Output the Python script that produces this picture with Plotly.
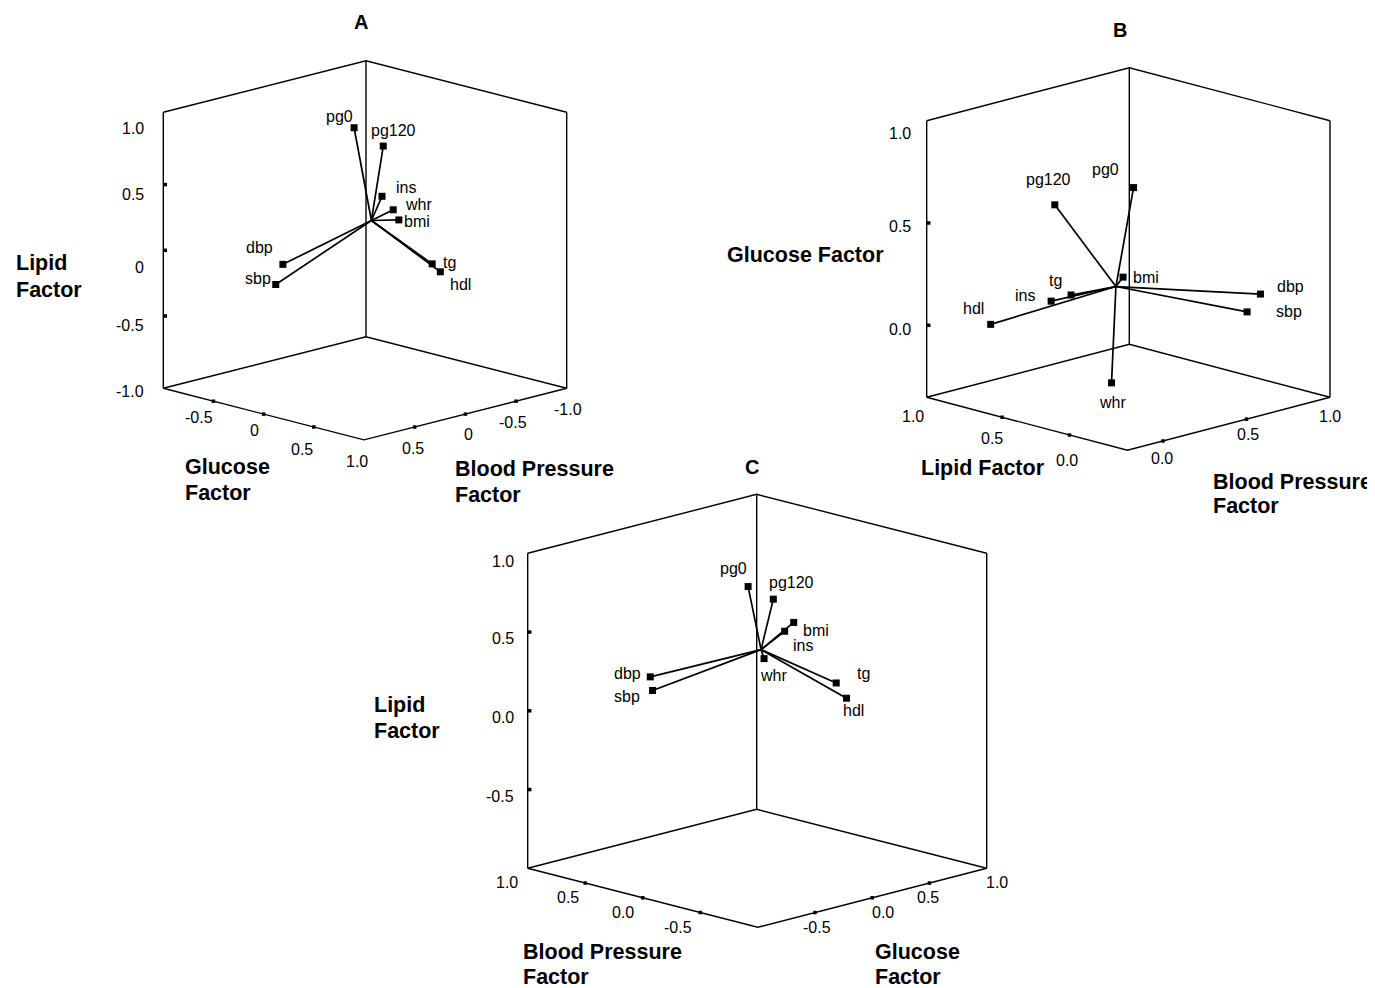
import plotly.graph_objects as go

# ---------------- data (factor loadings) ----------------
VARIABLES = ["pg0", "pg120", "ins", "whr", "bmi", "tg", "hdl", "dbp", "sbp"]

# Panel A – axes as labelled in panel A
A_GLUCOSE = [-0.24, -0.02, 0.21, 0.17, 0.60, 0.70, 0.69, 0.02, 0.07]
A_BP = [-0.13, -0.20, 0.04, -0.11, 0.26, 0.03, -0.06, 0.83, 0.95]
A_LIPID = [0.86, 0.75, 0.46, 0.32, 0.40, 0.04, -0.04, 0.06, -0.06]

# Panel B – axes as labelled in panel B
B_GLUCOSE = [0.81, 0.74, 0.17, -0.22, 0.23, 0.14, 0.03, 0.11, 0.04]
B_LIPID = [-0.10, 0.15, 0.45, 0.20, 0.35, 0.55, 0.75, -0.05, -0.05]
B_BP = [0.09, -0.18, 0.04, 0.20, 0.39, 0.24, -0.08, 0.89, 0.81]

# Panel C – axes as labelled in panel C
C_LIPID = [0.86, 0.75, 0.46, 0.32, 0.40, 0.04, -0.04, 0.06, -0.06]
C_BP = [-0.15, -0.18, 0.00, 0.00, 0.27, 0.02, -0.07, 0.88, 0.96]
C_GLUCOSE = [-0.23, -0.04, 0.24, 0.06, 0.59, 0.71, 0.71, -0.05, 0.05]

# tick labels
A_LIPID_TICKS = ["1.0", "0.5", "0", "-0.5", "-1.0"]
A_GLUCOSE_TICKS = ["-0.5", "0", "0.5", "1.0"]
A_BP_TICKS = ["0.5", "0", "-0.5", "-1.0"]
B_GLUCOSE_TICKS = ["1.0", "0.5", "0.0"]
B_LIPID_TICKS = ["1.0", "0.5", "0.0"]
B_BP_TICKS = ["0.0", "0.5", "1.0"]
C_LIPID_TICKS = ["1.0", "0.5", "0.0", "-0.5"]
C_BP_TICKS = ["1.0", "0.5", "0.0", "-0.5"]
C_GLUCOSE_TICKS = ["-0.5", "0.0", "0.5", "1.0"]

# ---------------- styling / panel geometry ----------------
FONT = "Arial, 'Liberation Sans', Helvetica, sans-serif"
BLACK = "#000000"
PAGE_W, PAGE_H, BODY_MARGIN = 1375, 988, 8

# u runs along back->left floor edge, v along back->right floor edge, w vertical
# *_shift: per-label pixel offsets (dx, dy) of the tick label from its tick
PANELS = [
    dict(letter="A", letter_pos=(361, 22),
         u=A_BP, v=A_GLUCOSE, w=A_LIPID,
         back=(366.0, 336.7), edge_u=(-202.7, 51.6), edge_v=(200.7, 51.6), height=276.0,
         u_range=(-1.0, 1.0), v_range=(-1.0, 1.0), w_range=(-1.05, 1.05),
         w_ticks=A_LIPID_TICKS, w_marks=[0.5, 0.0, -0.5],
         w_shift=[(-17, 9.4), (-17, 10.1), (-17, 17), (-17, 9.7), (-17, 10)],
         v_ticks=A_GLUCOSE_TICKS, v_marks=[-0.5, 0.0, 0.5],
         v_shift=[(-14.5, 16.5), (-8.7, 16.6), (-12.1, 22), (-6.7, 21.1)],
         u_ticks=A_BP_TICKS, u_marks=[0.5, 0.0, -0.5],
         u_shift=[(-1.7, 21.3), (3.6, 20.2), (-3, 21.5), (1.6, 21)],
         label_shift=[(-15, -11), (10, -16), (23.5, -8.4), (25, -5), (18, 2),
                      (17, -1.6), (20, 12.7), (-23, -16.7), (-17.5, -6)],
         titles=[("Lipid", 14, 263), ("Factor", 14, 290),
                 ("Glucose", 183, 466.7), ("Factor", 183, 493.3),
                 ("Blood Pressure", 453, 469), ("Factor", 453, 495)]),
    dict(letter="B", letter_pos=(1120, 30),
         u=B_BP, v=B_LIPID, w=B_GLUCOSE,
         back=(1129.3, 344.3), edge_u=(-202.6, 53.0), edge_v=(200.7, 53.0), height=276.6,
         u_range=(1.0, -0.213), v_range=(1.06, -0.43), w_range=(-0.352, 1.0),
         w_ticks=B_GLUCOSE_TICKS, w_marks=[0.5, 0.0],
         w_shift=[(-14, 12.6), (-14, 3.7), (-14, 4)],
         v_ticks=B_LIPID_TICKS, v_marks=[0.5, 0.0],
         v_shift=[(-21.5, 16.6), (-10.4, 21.1), (-2.8, 25.7)],
         u_ticks=B_BP_TICKS, u_marks=[0.0, 0.5],
         u_shift=[(-1.3, 17.3), (1.2, 15.2), (0, 19.4)],
         label_shift=[(-28, -18.4), (-6, -25), (-26, -6), (1, 20), (22.5, 0),
                      (-16, -14.3), (-17.5, -16), (30, -7.3), (42, 0)],
         titles=[("Glucose Factor", 725, 255), ("Lipid Factor", 919, 467.7),
                 ("Blood Pressure", 1211, 481.7), ("Factor", 1211, 506)]),
    dict(letter="C", letter_pos=(752, 467),
         u=C_GLUCOSE, v=C_BP, w=C_LIPID,
         back=(756.7, 809.3), edge_u=(-229.0, 59.0), edge_v=(230.0, 59.0), height=315.0,
         u_range=(1.0, -1.0), v_range=(1.0, -1.0), w_range=(-1.0, 1.0),
         w_ticks=C_LIPID_TICKS, w_marks=[0.5, 0.0, -0.5],
         w_shift=[(-12, 8.4), (-12, 6.3), (-12, 6.9), (-12, 7.2)],
         v_ticks=C_BP_TICKS, v_marks=[0.5, 0.0, -0.5],
         v_shift=[(-21, 14.4), (-16.9, 14.7), (-19.4, 14.9), (-21.9, 15.1)],
         u_ticks=C_GLUCOSE_TICKS, u_marks=[-0.5, 0.0, 0.5],
         u_shift=[(1.7, 14.8), (11.1, 14.9), (-1.2, 14.6), (10.3, 14.4)],
         label_shift=[(-15, -17.7), (18, -17), (18, 14), (9, 16.7), (22, 7.7),
                      (27, -9), (7, 12.4), (-23, -3.4), (-26, 6.4)],
         titles=[("Lipid", 372, 705), ("Factor", 372, 731),
                 ("Blood Pressure", 521, 951.7), ("Factor", 521, 976.5),
                 ("Glucose", 873, 951.7), ("Factor", 873, 976.5)]),
]


def frac(val, rng):
    return (val - rng[0]) / (rng[1] - rng[0])


def project(p, u, v, w):
    fu, fv, fw = frac(u, p["u_range"]), frac(v, p["v_range"]), frac(w, p["w_range"])
    x = p["back"][0] + fu * p["edge_u"][0] + fv * p["edge_v"][0]
    y = p["back"][1] + fu * p["edge_u"][1] + fv * p["edge_v"][1] - fw * p["height"]
    return x, y


fig = go.Figure()
annotations = []

for p in PANELS:
    bx, by = p["back"]
    eux, euy = p["edge_u"]
    evx, evy = p["edge_v"]
    H = p["height"]
    bb = (bx, by)
    lb = (bx + eux, by + euy)
    rb = (bx + evx, by + evy)
    fb = (bx + eux + evx, by + euy + evy)
    top = lambda c: (c[0], c[1] - H)
    segs = [[bb, top(bb)], [lb, top(lb)], [rb, top(rb)],
            [top(lb), top(bb), top(rb)], [lb, bb, rb], [lb, fb, rb]]
    xs, ys = [], []
    for s in segs:
        for c in s:
            xs.append(c[0]); ys.append(c[1])
        xs.append(None); ys.append(None)
    fig.add_trace(go.Scatter(x=xs, y=ys, mode="lines", line=dict(color=BLACK, width=1.4),
                             hoverinfo="skip"))

    # tick marks
    mx, my = [], []
    wr = p["w_range"]
    for t in p["w_marks"]:
        mx.append(lb[0] + 2); my.append(lb[1] - frac(t, wr) * H)
    for t in p["v_marks"]:
        f = frac(t, p["v_range"])
        mx.append(lb[0] + f * evx); my.append(lb[1] + f * evy)
    for t in p["u_marks"]:
        f = frac(t, p["u_range"])
        mx.append(rb[0] + f * eux); my.append(rb[1] + f * euy)
    fig.add_trace(go.Scatter(x=mx, y=my, mode="markers",
                             marker=dict(symbol="square", size=3.5, color=BLACK),
                             hoverinfo="skip"))

    # tick labels
    for lab, (dx, dy) in zip(p["w_ticks"], p["w_shift"]):
        t = float(lab)
        annotations.append(dict(x=lb[0], y=lb[1] - frac(t, wr) * H, text=lab,
                                xanchor="right", yanchor="middle",
                                xshift=dx, yshift=-dy))
    for lab, (dx, dy) in zip(p["v_ticks"], p["v_shift"]):
        f = frac(float(lab), p["v_range"])
        annotations.append(dict(x=lb[0] + f * evx, y=lb[1] + f * evy, text=lab,
                                xanchor="center", yanchor="middle",
                                xshift=dx, yshift=-dy))
    for lab, (dx, dy) in zip(p["u_ticks"], p["u_shift"]):
        f = frac(float(lab), p["u_range"])
        annotations.append(dict(x=rb[0] + f * eux, y=rb[1] + f * euy, text=lab,
                                xanchor="center", yanchor="middle",
                                xshift=dx, yshift=-dy))

    # points and spikes to the centroid
    n = len(VARIABLES)
    cu = sum(p["u"]) / n
    cv = sum(p["v"]) / n
    cw = sum(p["w"]) / n
    cx, cy = project(p, cu, cv, cw)
    px, py = [], []
    sx, sy = [], []
    for i in range(n):
        x, y = project(p, p["u"][i], p["v"][i], p["w"][i])
        px.append(x); py.append(y)
        sx += [cx, x, None]; sy += [cy, y, None]
    fig.add_trace(go.Scatter(x=sx, y=sy, mode="lines", line=dict(color=BLACK, width=1.7),
                             hoverinfo="skip"))
    fig.add_trace(go.Scatter(x=px, y=py, mode="markers", text=VARIABLES, hoverinfo="text",
                             marker=dict(symbol="square", size=7, color=BLACK)))
    for i, name in enumerate(VARIABLES):
        dx, dy = p["label_shift"][i]
        annotations.append(dict(x=px[i], y=py[i], text=name, xanchor="center",
                                yanchor="middle", xshift=dx, yshift=-dy))

    # axis titles and panel letter
    for text, tx, ty in p["titles"]:
        annotations.append(dict(x=tx, y=ty, text="<b>" + text + "</b>", xanchor="left",
                                yanchor="middle", align="left",
                                font=dict(size=21.5, family=FONT, color=BLACK)))
    annotations.append(dict(x=p["letter_pos"][0], y=p["letter_pos"][1],
                            text="<b>" + p["letter"] + "</b>", xanchor="center",
                            yanchor="middle", font=dict(size=20, family=FONT, color=BLACK)))

for a in annotations:
    a.setdefault("font", dict(size=16, family=FONT, color=BLACK))
    a.update(xref="x", yref="y", showarrow=False)

# the page body has an 8 px margin: size the figure so that page pixels map 1:1
fig.update_layout(
    width=PAGE_W - BODY_MARGIN, height=PAGE_H - BODY_MARGIN,
    margin=dict(l=0, r=0, t=0, b=0, pad=0),
    paper_bgcolor="white", plot_bgcolor="white", showlegend=False,
    xaxis=dict(range=[BODY_MARGIN, PAGE_W], visible=False, fixedrange=True),
    yaxis=dict(range=[PAGE_H, BODY_MARGIN], visible=False, fixedrange=True),
    annotations=annotations,
)

fig.write_html("out.html")
